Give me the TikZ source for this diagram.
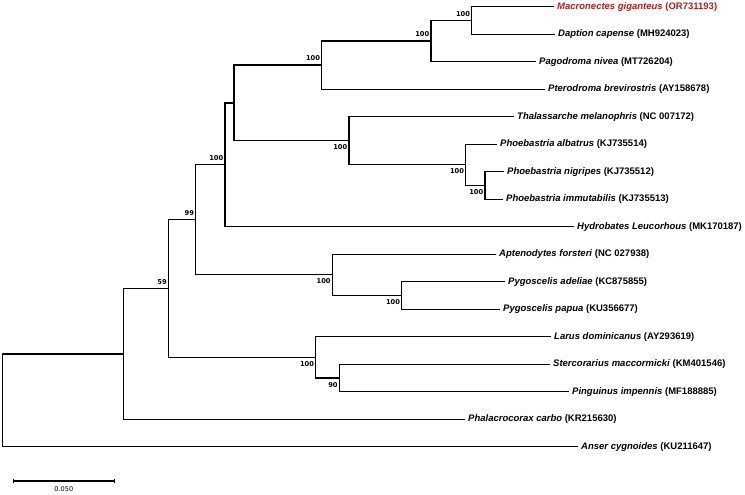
\documentclass[tikz,border=0pt]{standalone}
\usepackage{fontspec}
\usepackage{xcolor}
\usepackage{tikz}
\usetikzlibrary{arrows.meta, positioning}
\newfontfamily\taxfont{Liberation Sans}
\newfontfamily\valfont{DejaVu Sans}
\definecolor{macred}{RGB}{178,34,34}

\begin{document}
\begin{tikzpicture}[
    x=1pt, y=-1pt,
    taxon/.style={anchor=west, inner xsep=3.5pt, inner ysep=0pt, font=\taxfont\bfseries\fontsize{9.5}{11}\selectfont},
    branch/.style={draw, line width=1.3pt},
    boot/.style={inner sep=0pt, font=\valfont\bfseries\fontsize{6.7}{8}\selectfont},
]
\useasboundingbox[fill=white] (0,0) rectangle (745,495);

% Taxa
\node[taxon, text=macred] (mac) at (553.5,6.7) {\textit{Macronectes giganteus} (OR731193)};
\node[taxon] (dap) at (554.5,34.2) {\textit{Daption capense} (MH924023)};
\node[taxon] (pago) at (535.5,61.7) {\textit{Pagodroma nivea} (MT726204)};
\node[taxon] (ptero) at (544.5,89.2) {\textit{Pterodroma brevirostris} (AY158678)};
\node[taxon] (thal) at (513.5,116.7) {\textit{Thalassarche melanophris} (NC 007172)};
\node[taxon] (alb) at (496.5,144.2) {\textit{Phoebastria albatrus} (KJ735514)};
\node[taxon] (nig) at (503.5,171.7) {\textit{Phoebastria nigripes} (KJ735512)};
\node[taxon] (imm) at (502.5,199.2) {\textit{Phoebastria immutabilis} (KJ735513)};
\node[taxon] (hyd) at (573.5,226.7) {\textit{Hydrobates Leucorhous} (MK170187)};
\node[taxon] (apt) at (495.5,254.2) {\textit{Aptenodytes forsteri} (NC 027938)};
\node[taxon] (ade) at (504.5,281.7) {\textit{Pygoscelis adeliae} (KC875855)};
\node[taxon] (pap) at (499.5,309.2) {\textit{Pygoscelis papua} (KU356677)};
\node[taxon] (lar) at (550.5,336.7) {\textit{Larus dominicanus} (AY293619)};
\node[taxon] (ste) at (549.5,364.2) {\textit{Stercorarius maccormicki} (KM401546)};
\node[taxon] (pin) at (568.5,391.7) {\textit{Pinguinus impennis} (MF188885)};
\node[taxon] (pha) at (464.5,419.2) {\textit{Phalacrocorax carbo} (KR215630)};
\node[taxon] (ans) at (577.5,446.7) {\textit{Anser cygnoides} (KU211647)};

% Internal nodes
\coordinate (n1) at (471.7,20.45);
\coordinate (n2) at (431,41.1);
\coordinate (n3) at (321.7,65.15);
\coordinate (n4) at (485,185.45);
\coordinate (n5) at (465.7,164.8);
\coordinate (n6) at (349,140.75);
\coordinate (n7) at (234,102.95);
\coordinate (n8) at (225,164.8);
\coordinate (n9) at (401.7,295.45);
\coordinate (n10) at (332.3,274.8);
\coordinate (n11) at (195.7,219.8);
\coordinate (n12) at (339.3,377.95);
\coordinate (n13) at (315.7,357.3);
\coordinate (n14) at (168.5,288.55);
\coordinate (n15) at (123.3,353.9);
\coordinate (root) at (2.7,400.3);

% Branches
\path[branch] (n1) |- (mac.west) (n1) |- (dap.west);
\path[branch] (n2) |- (n1) (n2) |- (pago.west);
\path[branch] (n3) |- (n2) (n3) |- (ptero.west);
\path[branch] (n4) |- (nig.west) (n4) |- (imm.west);
\path[branch] (n5) |- (alb.west) (n5) |- (n4);
\path[branch] (n6) |- (thal.west) (n6) |- (n5);
\path[branch] (n7) |- (n3) (n7) |- (n6);
\path[branch] (n8) |- (n7) (n8) |- (hyd.west);
\path[branch] (n9) |- (ade.west) (n9) |- (pap.west);
\path[branch] (n10) |- (apt.west) (n10) |- (n9);
\path[branch] (n11) |- (n8) (n11) |- (n10);
\path[branch] (n12) |- (ste.west) (n12) |- (pin.west);
\path[branch] (n13) |- (lar.west) (n13) |- (n12);
\path[branch] (n14) |- (n11) (n14) |- (n13);
\path[branch] (n15) |- (n14) (n15) |- (pha.west);
\path[branch] (root) |- (n15) (root) |- (ans.west);

% Bootstrap values
\node[boot, above left=4pt and 1.5pt of n1] (b1) {100};
\node[boot, above left=4pt and 1.5pt of n2] (b2) {100};
\node[boot, above left=4pt and 1.5pt of n3] (b3) {100};
\node[boot, below left=4pt and 1.5pt of n4] (b4) {100};
\node[boot, below left=4pt and 1.5pt of n5] (b5) {100};
\node[boot, below left=4pt and 1.5pt of n6] (b6) {100};
\node[boot, above left=4pt and 1.5pt of n8] (b8) {100};
\node[boot, below left=4pt and 1.5pt of n9] (b9) {100};
\node[boot, below left=4pt and 1.5pt of n10] (b10) {100};
\node[boot, above left=4pt and 1.5pt of n11] (b11) {99};
\node[boot, below left=4pt and 1.5pt of n12] (b12) {90};
\node[boot, below left=4pt and 1.5pt of n13] (b13) {100};
\node[boot, above left=4pt and 1.5pt of n14] (b14) {59};

% Scale bar
\coordinate (sbl) at (12.7,481);
\coordinate (sbr) at (115,481);
\draw[line width=1.3pt, {Bar[width=4.5pt]}-{Bar[width=4.5pt]}] (sbl) -- (sbr)
    node[midway, below=4.5pt, inner sep=0pt, font=\valfont\fontsize{6.6}{8}\selectfont] (sblab) {0.050};
\end{tikzpicture}
\end{document}
